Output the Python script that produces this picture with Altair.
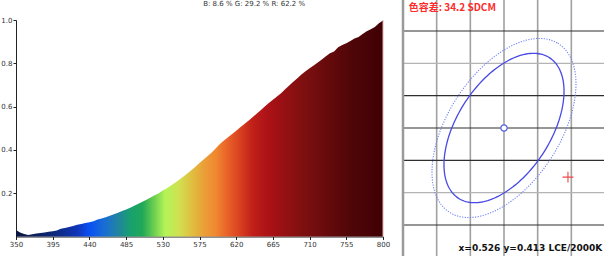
import numpy as np
import pandas as pd
import altair as alt

# ---------------- data ----------------
wavelengths = list(range(350, 805, 5))
intensity = [
    0.030, 0.018, 0.012, 0.007, 0.010, 0.014, 0.016, 0.019, 0.022, 0.024, 0.028,
    0.036, 0.039, 0.044, 0.048, 0.054, 0.058, 0.062, 0.066, 0.071, 0.078,
    0.083, 0.089, 0.096, 0.103, 0.110, 0.118, 0.125, 0.133, 0.142, 0.151,
    0.160, 0.170, 0.180, 0.190, 0.200, 0.212, 0.223, 0.235, 0.248, 0.262,
    0.276, 0.291, 0.306, 0.322, 0.340, 0.356, 0.372, 0.388, 0.408, 0.427,
    0.443, 0.459, 0.474, 0.489, 0.505, 0.520, 0.535, 0.551, 0.567, 0.583,
    0.600, 0.617, 0.632, 0.647, 0.662, 0.680, 0.697, 0.715, 0.731, 0.748,
    0.763, 0.777, 0.790, 0.804, 0.818, 0.832, 0.846, 0.855, 0.874, 0.884,
    0.893, 0.903, 0.914, 0.921, 0.935, 0.948, 0.957, 0.968, 0.985, 0.998,
]
x_ticks = [350, 395, 440, 485, 530, 575, 620, 665, 710, 755, 800]
y_ticks = [0.2, 0.4, 0.6, 0.8, 1.0]

stop_nm = [350, 400, 425, 440, 460, 475, 490, 505, 520, 533, 550, 565, 580,
           595, 610, 625, 640, 655, 670, 700, 730, 760, 800]
stop_colors = ["#0a1540", "#0d2a80", "#1034b8", "#0a50f4", "#1a70d0", "#2084a0",
               "#18a070", "#20a858", "#70d050", "#b4f458", "#d0e050", "#e0c040",
               "#eaa038", "#f08830", "#e86028", "#d84020", "#c02018", "#b01418",
               "#a01014", "#801010", "#680a0c", "#500608", "#400004"]

title_text = "B: 8.6 %  G: 29.2 %  R: 62.2 %"

# right panel (chromaticity window, grid units)
grid_v = [1, 2, 3, 4, 5]
grid_h = [-3, -2, -1, 0, 1, 2, 3]
grid_h_dark = ["d", "g", "d", "d", "d", "g", "d"]
target = (3.0, 0.0)
measured = (4.9, -1.52)
ellipse_a = [2.56, 3.07]
ellipse_b = [1.40, 1.68]
ellipse_angle_deg = 59.0
ellipse_style = ["inner", "outer"]
sdcm_text = "色容差: 34.2 SDCM"
coord_text = "x=0.526 y=0.413 LCE/2000K"

# ---------------- scales ----------------
SX = alt.Scale(domain=[350, 800], range=[16, 383], nice=False, zero=False)
SY = alt.Scale(domain=[0, 1], range=[236.5, 20], nice=False, zero=False)
RX = alt.Scale(domain=[0, 6], range=[403, 605], nice=False, zero=False)
RY = alt.Scale(domain=[-3, 3], range=[225, 31], nice=False, zero=False)

spec_df = pd.DataFrame({"nm": wavelengths, "v": intensity})

grad = alt.Gradient(
    gradient="linear",
    stops=[alt.GradientStop(color=c, offset=(n - 350) / 450.0)
           for n, c in zip(stop_nm, stop_colors)],
    x1=0, x2=1, y1=0, y2=0,
)

axis_common = dict(domainColor="#222", domainWidth=1, tickColor="#222", tickSize=3,
                   labelFontSize=7, labelColor="#333", labelFont="DejaVu Sans",
                   grid=False, title=None, labelPadding=1, labelFlush=False,
                   labelOverlap=False)

area = alt.Chart(spec_df).mark_area(color=grad, line=False).encode(
    x=alt.X("nm:Q", scale=SX, axis=alt.Axis(values=x_ticks, offset=-19.5, **axis_common)),
    y=alt.Y("v:Q", scale=SY, axis=alt.Axis(values=y_ticks, format=".1f", offset=-16, **axis_common)),
)

edge_df = pd.DataFrame({"nm": [wavelengths[-1]], "v0": [0.0], "v1": [intensity[-1]]})
edge = alt.Chart(edge_df).mark_rule(color="#dcb0b0", strokeWidth=1).encode(
    x=alt.X("nm:Q", scale=SX, axis=None),
    y=alt.Y("v0:Q", scale=SY, axis=None),
    y2="v1:Q",
)

title_df = pd.DataFrame({"nm": [642], "v": [1.072], "t": [title_text]})
title = alt.Chart(title_df).mark_text(fontSize=7, color="#333", font="DejaVu Sans",
                                      baseline="middle", align="center").encode(
    x=alt.X("nm:Q", scale=SX, axis=None),
    y=alt.Y("v:Q", scale=SY, axis=None),
    text="t:N",
)

# grid
sep_df = pd.DataFrame({"x": [0.0], "y0": [-4.2], "y1": [4.2]})
sep = alt.Chart(sep_df).mark_rule(color="#9a9a9a", strokeWidth=2.5).encode(
    x=alt.X("x:Q", scale=RX, axis=None),
    y=alt.Y("y0:Q", scale=RY, axis=None),
    y2="y1:Q",
)
gv_df = pd.DataFrame({"x": grid_v, "y0": [-4.2] * len(grid_v), "y1": [4.2] * len(grid_v)})
gv = alt.Chart(gv_df).mark_rule(color="#a0a0a0", strokeWidth=1.6).encode(
    x=alt.X("x:Q", scale=RX, axis=None),
    y=alt.Y("y0:Q", scale=RY, axis=None),
    y2="y1:Q",
)
gh_df = pd.DataFrame({"y": grid_h, "dark": grid_h_dark,
                      "x0": [0.0] * len(grid_h), "x1": [6.0] * len(grid_h)})
gh = alt.Chart(gh_df).mark_rule(strokeWidth=1.2).encode(
    y=alt.Y("y:Q", scale=RY, axis=None),
    x=alt.X("x0:Q", scale=RX, axis=None),
    x2="x1:Q",
    color=alt.Color("dark:N", scale=alt.Scale(domain=["d", "g"], range=["#2e2e2e", "#b4b4b4"]),
                    legend=None),
)

# ellipses
rows = []
th = np.deg2rad(ellipse_angle_deg)
ts = np.linspace(0, 2 * np.pi, 181)
for a, b, s in zip(ellipse_a, ellipse_b, ellipse_style):
    for i, t in enumerate(ts):
        ex = target[0] + a * np.cos(th) * np.cos(t) - b * np.sin(th) * np.sin(t)
        ey = target[1] + a * np.sin(th) * np.cos(t) + b * np.cos(th) * np.sin(t)
        rows.append({"x": ex, "y": ey, "i": i, "s": s})
ell_df = pd.DataFrame(rows)
inner = alt.Chart(ell_df[ell_df.s == "inner"]).mark_line(color="#4848e6", strokeWidth=1.3).encode(
    x=alt.X("x:Q", scale=RX, axis=None),
    y=alt.Y("y:Q", scale=RY, axis=None),
    order="i:Q",
)
outer = alt.Chart(ell_df[ell_df.s == "outer"]).mark_line(color="#7080f0", strokeWidth=1.1,
                                                          strokeDash=[1.2, 1.4]).encode(
    x=alt.X("x:Q", scale=RX, axis=None),
    y=alt.Y("y:Q", scale=RY, axis=None),
    order="i:Q",
)

center_df = pd.DataFrame({"x": [target[0]], "y": [target[1]]})
center = alt.Chart(center_df).mark_point(shape="circle", size=40, filled=True, fill="white",
                                         stroke="#5060e0", strokeWidth=1.2, opacity=1).encode(
    x=alt.X("x:Q", scale=RX, axis=None),
    y=alt.Y("y:Q", scale=RY, axis=None),
)

meas_df = pd.DataFrame({"x": [measured[0]], "y": [measured[1]]})
meas = alt.Chart(meas_df).mark_point(shape="M-1,0H1M0,-1V1", size=120, stroke="#f04848",
                                     strokeWidth=1.1, opacity=1).encode(
    x=alt.X("x:Q", scale=RX, axis=None),
    y=alt.Y("y:Q", scale=RY, axis=None),
)

sdcm_df = pd.DataFrame({"x": [0.17], "y": [3.71], "t": [sdcm_text]})
sdcm = alt.Chart(sdcm_df).mark_text(fontSize=10, fontWeight="bold", color="#ff2a2a",
                                    font="Noto Sans CJK SC", align="left",
                                    baseline="middle").encode(
    x=alt.X("x:Q", scale=RX, axis=None),
    y=alt.Y("y:Q", scale=RY, axis=None),
    text="t:N",
)
coord_df = pd.DataFrame({"x": [5.92], "y": [-3.72], "t": [coord_text]})
coord = alt.Chart(coord_df).mark_text(fontSize=9, fontWeight="bold", color="#111",
                                      font="DejaVu Sans", align="right",
                                      baseline="middle").encode(
    x=alt.X("x:Q", scale=RX, axis=None),
    y=alt.Y("y:Q", scale=RY, axis=None),
    text="t:N",
)

chart = alt.layer(
    area, edge, title, gv, gh, sep, outer, inner, center, meas, sdcm, coord
).resolve_scale(
    x="independent", y="independent", color="independent"
).resolve_axis(
    x="independent", y="independent"
).properties(
    width=604, height=256, autosize=alt.AutoSizeParams(type="none"), padding=0,
    background="white",
).configure_view(stroke=None)

chart.save("out.html", embed_options={"renderer": "svg", "actions": False})
